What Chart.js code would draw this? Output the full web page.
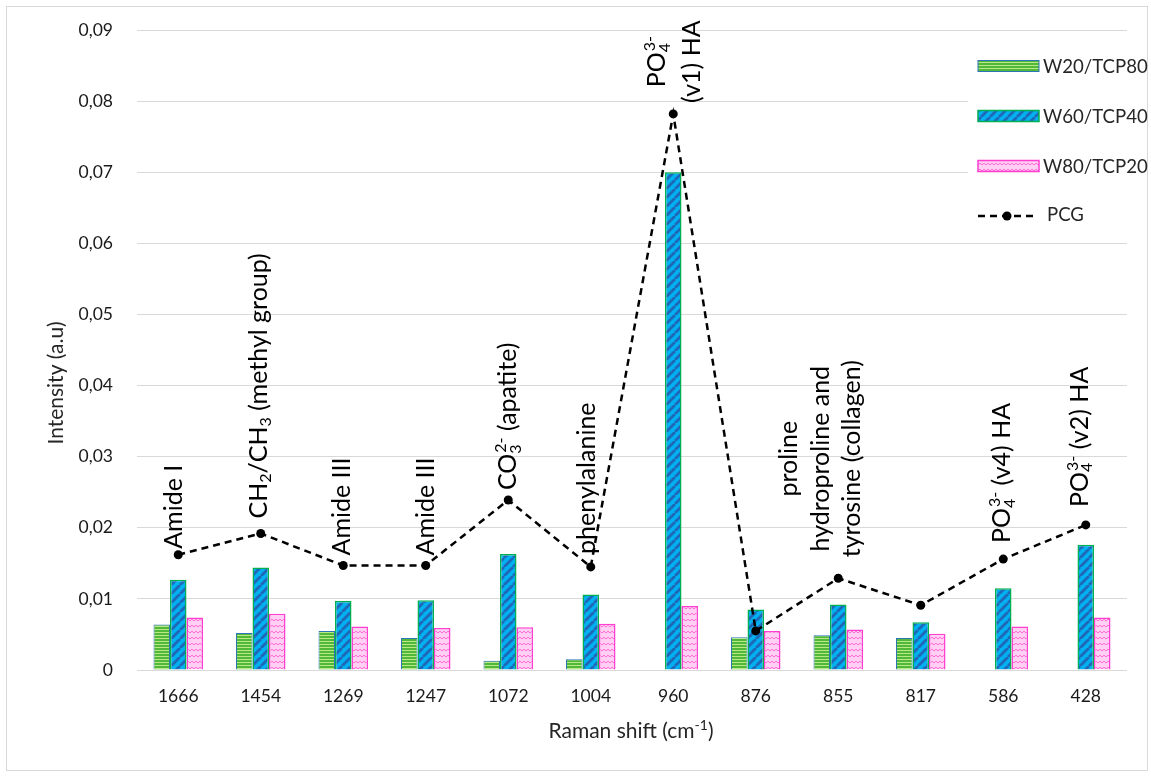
<!DOCTYPE html>
<html lang="en">
<head>
  <meta charset="UTF-8">
  <title>Raman peaks</title>
  <script src="https://cdn.jsdelivr.net/npm/chart.js"></script>
  <style>
    body { margin: 0; background: #fff; }
    .frame { position: absolute; left: 6px; top: 6px; width: 1140px; height: 763px; border: 1px solid #d9d9d9; }
    #chart { position: absolute; left: 0; top: 0; }
  </style>
</head>
<body>
  <div class="frame"></div>
  <canvas id="chart" width="1151" height="776"></canvas>

  <script>
    // Raman shift categories (cm-1)
    const shifts = ['1666', '1454', '1269', '1247', '1072', '1004', '960', '876', '855', '817', '586', '428'];

    // intensities
    const w20tcp80 = [0.0064, 0.0052, 0.0055, 0.0045, 0.0013, 0.0015, null, 0.0046, 0.0049, 0.0045, null, null];
    const w60tcp40 = [0.0127, 0.0144, 0.0097, 0.0098, 0.0163, 0.0106, 0.0700, 0.0085, 0.0092, 0.0067, 0.0115, 0.0176];
    const w80tcp20 = [0.0074, 0.0079, 0.0061, 0.0059, 0.0060, 0.0065, 0.0090, 0.0055, 0.0057, 0.0051, 0.0061, 0.0074];
    const pcg      = [0.0162, 0.0192, 0.0147, 0.0147, 0.0239, 0.0145, 0.0782, 0.0055, 0.0129, 0.0091, 0.0156, 0.0204];

    const seriesNames = ['W20/TCP80', 'W60/TCP40', 'W80/TCP20', 'PCG'];

    // peak assignments (_{} subscript, ^{} superscript)
    const peakNotes = [
      ['Amide I'],
      ['CH_{2}/CH_{3} (methyl group)'],
      ['Amide III'],
      ['Amide III'],
      ['CO_{3}^{2-} (apatite)'],
      ['phenylalanine'],
      ['PO_{4}^{3-}', '(v1) HA'],
      [],
      ['proline', 'hydroproline and', 'tyrosine (collagen)'],
      [],
      ['PO_{4}^{3-} (v4) HA'],
      ['PO_{4}^{3-} (v2) HA']
    ];

    const yTicks = [0, 0.01, 0.02, 0.03, 0.04, 0.05, 0.06, 0.07, 0.08, 0.09];

    // placement of the notes relative to the PCG points
    const noteGap = [6, 15, 10, 10, 10, 13, 11, 0, 21, 0, 16, 18];
    const noteBase = [[4], [6], [7], [8], [8], [4], [-8, 27], [], [-41, -9, 22], [], [7], [2]];

    const FONT = 'Lato, "Open Sans", sans-serif';
    const canvas = document.getElementById('chart');
    const ctx0 = canvas.getContext('2d');

    function makePattern(w, h, draw) {
      const c = document.createElement('canvas');
      c.width = w; c.height = h;
      draw(c.getContext('2d'), w, h);
      return ctx0.createPattern(c, 'repeat');
    }

    const greenFill = makePattern(3, 3, (g) => {
      g.fillStyle = '#52b83a'; g.fillRect(0, 0, 3, 3);
      g.fillStyle = '#b8e986'; g.fillRect(0, 2, 3, 1);
    });
    const blueFill = makePattern(9, 9, (g) => {
      g.fillStyle = '#00b0f0'; g.fillRect(0, 0, 9, 9);
      g.strokeStyle = '#1f68b8'; g.lineWidth = 2.8;
      for (let o = -9; o <= 9; o += 9) {
        g.beginPath(); g.moveTo(o, 9); g.lineTo(o + 9, 0); g.stroke();
      }
    });
    const pinkFill = makePattern(8, 6, (g) => {
      g.fillStyle = '#ffd0f4'; g.fillRect(0, 0, 8, 6);
      g.strokeStyle = '#ff6ad6'; g.lineWidth = 1;
      g.beginPath(); g.moveTo(0, 1); g.quadraticCurveTo(2, 4.5, 4, 1); g.quadraticCurveTo(6, 4.5, 8, 1); g.stroke();
    });

    const barStyles = [
      { fill: greenFill, border: '#2e75b6', width: 1 },
      { fill: blueFill, border: '#00b050', width: 1.5 },
      { fill: pinkFill, border: '#ff3fd0', width: 1.5 }
    ];

    // rich text helpers
    function parseRich(s) {
      const re = /_\{([^}]*)\}|\^\{([^}]*)\}|([^_^]+)/g;
      const out = []; let m;
      while ((m = re.exec(s))) {
        if (m[1] !== undefined) out.push({ t: m[1], kind: 'sub' });
        else if (m[2] !== undefined) out.push({ t: m[2], kind: 'sup' });
        else out.push({ t: m[3], kind: 'n' });
      }
      return out;
    }

    function layoutRich(ctx, s, fs) {
      const segs = parseRich(s);
      const small = Math.round(fs * 0.65);
      let x = 0; const out = [];
      for (let k = 0; k < segs.length; k++) {
        const sg = segs[k];
        if (sg.kind === 'n') {
          ctx.font = fs + 'px ' + FONT;
          out.push({ t: sg.t, x, dy: 0, size: fs });
          x += ctx.measureText(sg.t).width;
        } else {
          ctx.font = small + 'px ' + FONT;
          const w = ctx.measureText(sg.t).width;
          out.push({ t: sg.t, x, dy: sg.kind === 'sub' ? fs * 0.17 : -fs * 0.4, size: small });
          const nxt = segs[k + 1];
          if (sg.kind === 'sub' && nxt && nxt.kind === 'sup') {
            const w2 = ctx.measureText(nxt.t).width;
            out.push({ t: nxt.t, x: x + 1, dy: -fs * 0.4, size: small });
            x += Math.max(w, w2 + 1); k++;
          } else {
            x += w;
          }
        }
      }
      return { parts: out, width: x };
    }

    function drawRich(ctx, lay, x0, y0) {
      lay.parts.forEach(p => {
        ctx.font = p.size + 'px ' + FONT;
        ctx.fillText(p.t, x0 + p.x, y0 + p.dy);
      });
    }

    const extras = {
      id: 'extras',
      afterDatasetsDraw(chart) {
        const ctx = chart.ctx;
        const meta = chart.getDatasetMeta(3);
        const fs = 25;
        ctx.save();
        ctx.fillStyle = '#000';
        ctx.textBaseline = 'alphabetic';
        ctx.textAlign = 'left';
        peakNotes.forEach((lines, i) => {
          if (!lines.length) return;
          const pt = meta.data[i];
          const lays = lines.map(l => layoutRich(ctx, l, fs));
          const L = Math.max(...lays.map(l => l.width));
          ctx.save();
          ctx.translate(pt.x, pt.y - noteGap[i]);
          ctx.rotate(-Math.PI / 2);
          lays.forEach((lay, j) => drawRich(ctx, lay, (L - lay.width) / 2, noteBase[i][j]));
          ctx.restore();
        });
        ctx.restore();
      },
      afterDraw(chart) {
        const ctx = chart.ctx;
        ctx.save();
        // legend
        ctx.fillStyle = '#fff';
        ctx.fillRect(968, 38, 178, 196);
        ctx.textBaseline = 'middle';
        ctx.textAlign = 'left';
        ctx.font = '18.6px ' + FONT;
        barStyles.forEach((st, i) => {
          const cy = 66 + 50 * i;
          ctx.fillStyle = st.fill;
          ctx.fillRect(978, cy - 5.5, 61, 11);
          ctx.strokeStyle = st.border;
          ctx.lineWidth = st.width;
          ctx.strokeRect(978, cy - 5.5, 61, 11);
          ctx.fillStyle = '#262626';
          ctx.fillText(seriesNames[i], 1043, cy + 1);
        });
        ctx.strokeStyle = '#000';
        ctx.lineWidth = 2.5;
        ctx.setLineDash([7, 5]);
        ctx.beginPath(); ctx.moveTo(978, 216); ctx.lineTo(1037, 216); ctx.stroke();
        ctx.setLineDash([]);
        ctx.fillStyle = '#000';
        ctx.beginPath(); ctx.arc(1007, 216, 4.5, 0, Math.PI * 2); ctx.fill();
        ctx.fillStyle = '#262626';
        ctx.fillText(seriesNames[3], 1047, 215);

        // axis titles
        ctx.textBaseline = 'alphabetic';
        ctx.fillStyle = '#262626';
        const xt = layoutRich(ctx, 'Raman shift (cm^{-1})', 21);
        drawRich(ctx, xt, 631 - xt.width / 2, 738);
        const yt = layoutRich(ctx, 'Intensity (a.u)', 21);
        ctx.translate(63, 383);
        ctx.rotate(-Math.PI / 2);
        drawRich(ctx, yt, -yt.width / 2, 0);
        ctx.restore();
      }
    };

    const datasets = [w20tcp80, w60tcp40, w80tcp20].map((vals, i) => ({
      type: 'bar',
      label: seriesNames[i],
      data: vals,
      backgroundColor: barStyles[i].fill,
      borderColor: barStyles[i].border,
      borderWidth: barStyles[i].width,
      categoryPercentage: 0.6,
      barPercentage: 1.0,
      order: 2
    }));
    datasets.push({
      type: 'line',
      label: seriesNames[3],
      data: pcg,
      borderColor: '#000',
      borderWidth: 2.5,
      borderDash: [7, 5],
      pointRadius: 4.5,
      pointBackgroundColor: '#000',
      pointBorderWidth: 0,
      tension: 0,
      order: 1
    });

    new Chart(canvas, {
      data: { labels: shifts, datasets },
      options: {
        responsive: false,
        animation: false,
        devicePixelRatio: 1,
        layout: { padding: { top: 30, right: 24, left: 0, bottom: 0 } },
        plugins: { legend: { display: false }, tooltip: { enabled: false } },
        scales: {
          x: {
            grid: { display: false, drawTicks: false },
            border: { display: false },
            ticks: { font: { family: FONT, size: 17.5 }, color: '#1a1a1a', padding: 16 },
            afterFit(s) { s.height = 106; }
          },
          y: {
            min: 0,
            max: 0.09,
            grid: { color: '#d9d9d9', lineWidth: 1, drawTicks: false },
            border: { display: false },
            afterBuildTicks(s) { s.ticks = yTicks.map(v => ({ value: v })); },
            ticks: {
              font: { family: FONT, size: 17.5 },
              color: '#1a1a1a',
              padding: 24,
              callback: v => v === 0 ? '0' : v.toFixed(2).replace('.', ',')
            },
            afterFit(s) { s.width = 137; s.paddingTop = 0; s.paddingBottom = 0; }
          }
        }
      },
      plugins: [extras]
    });
  </script>
</body>
</html>
